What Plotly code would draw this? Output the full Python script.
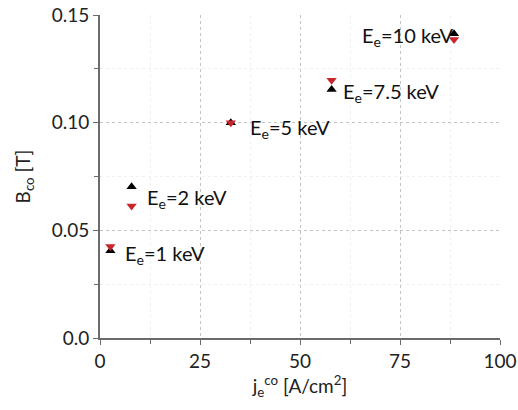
import plotly.graph_objects as go

energies = ["1", "2", "5", "7.5", "10"]
j_co = [2.6, 7.9, 32.7, 57.9, 88.5]
b_black = [0.0405, 0.0702, 0.1000, 0.1154, 0.1413]
b_red = [0.0425, 0.0613, 0.1000, 0.1197, 0.1386]

label_y = [0.0403, 0.0664, 0.0989, 0.1152, 0.1414]
label_side = ["right", "right", "right", "right", "left"]
label_xshift = [13, 13, 17, 9, 2]

fig = go.Figure()
fig.add_trace(go.Scatter(x=j_co, y=b_black, mode="markers",
                         marker=dict(symbol="triangle-up", size=9, color="black"),
                         showlegend=False))
fig.add_trace(go.Scatter(x=j_co, y=b_red, mode="markers",
                         marker=dict(symbol="triangle-down", size=9, color="#c8262c"),
                         showlegend=False))

for e, x, y, side, dx in zip(energies, j_co, label_y, label_side, label_xshift):
    fig.add_annotation(x=x, y=y, text=f"E<sub>e</sub>={e} keV", showarrow=False,
                       xanchor="left" if side == "right" else "right",
                       xshift=dx, yshift=-3,
                       font=dict(size=20, color="#111"))

axis_common = dict(showline=True, linecolor="#6b6b6b", linewidth=2,
                   ticks="outside", ticklen=5, tickcolor="#6b6b6b",
                   showgrid=True, gridcolor="#c4c4c4", griddash="dot", gridwidth=1,
                   zeroline=False, tickfont=dict(size=19, color="#222"),
                   mirror=False, automargin=False)

fig.update_xaxes(range=[0, 100], dtick=25, tick0=0,
                 minor=dict(dtick=12.5, ticks="outside", ticklen=4, tickcolor="#6b6b6b",
                            showgrid=True, gridcolor="#f0f0f0", gridwidth=1),
                 title=dict(text="j<sub>e</sub><sup>co</sup> [A/cm<sup>2</sup>]",
                            font=dict(size=19, color="#222"), standoff=8),
                 **axis_common)
fig.update_yaxes(range=[0, 0.15], dtick=0.05, tick0=0,
                 tickvals=[0, 0.05, 0.10, 0.15], ticktext=["0.0", "0.05", "0.10", "0.15"],
                 minor=dict(dtick=0.025, ticks="outside", ticklen=4, tickcolor="#6b6b6b",
                            showgrid=True, gridcolor="#f0f0f0", gridwidth=1),
                 title=dict(text="B<sub>co</sub> [T]", font=dict(size=19, color="#222"), standoff=16),
                 **axis_common)

fig.update_layout(width=518, height=410, margin=dict(l=100, r=18, t=15, b=72),
                  plot_bgcolor="white", paper_bgcolor="white",
                  font=dict(family="Lato, Liberation Sans, sans-serif"))
fig.write_html("out.html", config={"displayModeBar": False},
               post_script="document.body.style.margin='0';document.body.style.overflow='hidden';")
